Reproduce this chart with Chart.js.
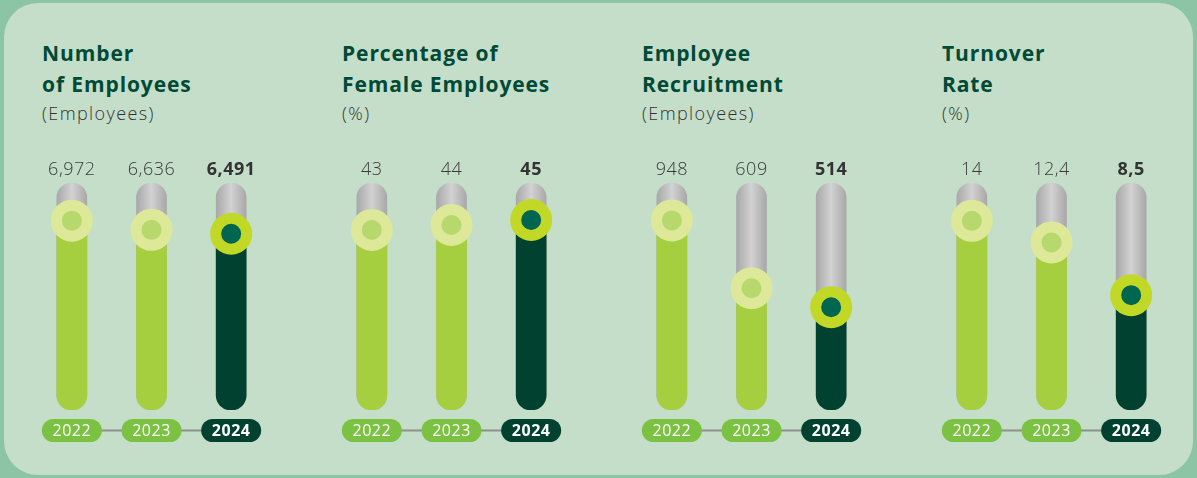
<!DOCTYPE html>
<html>
<head>
<meta charset="utf-8">
<title>Employee indicators</title>
<script src="https://cdn.jsdelivr.net/npm/chart.js@4/dist/chart.umd.min.js"></script>
<style>
  html, body { margin: 0; padding: 0; }
  body {
    width: 1197px; height: 478px; overflow: hidden; position: relative;
    background: #8cc5a6; font-family: "Open Sans", sans-serif;
  }
  .card {
    position: absolute; left: 4px; top: 3px; width: 1189px; height: 472px;
    border-radius: 34px; background: #c5dec9;
  }
  .panel { position: absolute; top: 0; width: 300px; height: 478px; }
  .panel canvas { position: absolute; left: 0; top: 0; }
  .title {
    position: absolute; left: 42px; top: 38px; font-weight: 700; font-size: 21px;
    letter-spacing: 0.9px; line-height: 31px; color: #004a36; white-space: nowrap;
  }
  .unit {
    position: absolute; left: 42px; top: 101px; font-size: 18px; font-weight: 300;
    letter-spacing: 1.4px; color: #333333; white-space: nowrap;
  }
</style>
</head>
<body>
<div class="card"></div>

<script>
// Data
const years = ["2022", "2023", "2024"]
const employees = [6972, 6636, 6491]
const femaleShare = [43, 44, 45]
const recruitment = [948, 609, 514]
const turnover = [14, 12.4, 8.5]

const titles = [
  ["Number", "of Employees"],
  ["Percentage of", "Female Employees"],
  ["Employee", "Recruitment"],
  ["Turnover", "Rate"],
]
const units = ["(Employees)", "(%)", "(Employees)", "(%)"]

// Colors
const LIME = "#a6cf3f"
const DARK = "#00412f"
const RING_LIGHT = "#dde998"
const DOT_LIGHT = "#b6d86c"
const RING_DARK = "#c2d827"
const DOT_DARK = "#006650"
const PILL_LIGHT = "#7cc242"

const fmtThousands = (v) => v.toLocaleString("en-US")
const fmtComma = (v) => String(v).replace(".", ",")

const panels = [
  { data: employees, min: 0, max: 8360, fmt: fmtThousands },
  { data: femaleShare, min: 7, max: 52.4, fmt: fmtComma },
  { data: recruitment, min: 0, max: 1135, fmt: fmtThousands },
  { data: turnover, min: 0, max: 16.8, fmt: fmtComma },
]

// Value labels above the tracks and year pills under them
const decorPlugin = {
  id: "decor",
  afterDatasetsDraw(chart, args, opts) {
    const { ctx, scales } = chart
    const x = scales.x
    const last = years.length - 1
    ctx.save()

    // value labels
    ctx.textAlign = "center"
    ctx.textBaseline = "middle"
    ctx.letterSpacing = "0.5px"
    opts.values.forEach((v, i) => {
      ctx.font = (i === last ? "700 " : "300 ") + "18px 'Open Sans'"
      ctx.fillStyle = i === last ? "#333333" : "#3a3a3a"
      ctx.fillText(opts.fmt(v), x.getPixelForValue(i), 170)
    })

    // connector between pills
    const pillW = 60, pillH = 23, pillY = 419
    ctx.strokeStyle = "#8c918c"
    ctx.lineWidth = 2
    ctx.beginPath()
    ctx.moveTo(x.getPixelForValue(0), pillY + pillH / 2)
    ctx.lineTo(x.getPixelForValue(last), pillY + pillH / 2)
    ctx.stroke()

    years.forEach((y, i) => {
      const cx = x.getPixelForValue(i)
      ctx.fillStyle = i === last ? DARK : PILL_LIGHT
      ctx.beginPath()
      ctx.roundRect(cx - pillW / 2, pillY, pillW, pillH, pillH / 2)
      ctx.fill()
      ctx.fillStyle = "#ffffff"
      ctx.font = (i === last ? "700 " : "400 ") + "16px 'Open Sans'"
      ctx.fillText(y, cx, pillY + pillH / 2 + 1)
    })
    ctx.restore()
  },
}

function trackGradient(context) {
  const chart = context.chart
  if (!chart.chartArea) return "#c4c4c4"
  const cx = chart.scales.x.getPixelForValue(context.dataIndex)
  const g = chart.ctx.createLinearGradient(cx - 15, 0, cx + 15, 0)
  g.addColorStop(0, "#a8a8a8")
  g.addColorStop(0.5, "#d2d2d2")
  g.addColorStop(1, "#a8a8a8")
  return g
}

panels.forEach((p, idx) => {
  const panel = document.createElement("div")
  panel.className = "panel"
  panel.style.left = idx * 300 + "px"
  panel.innerHTML =
    `<div class="title">${titles[idx].join("<br>")}</div>` +
    `<div class="unit">${units[idx]}</div>` +
    `<canvas width="300" height="478"></canvas>`
  document.body.appendChild(panel)

  const last = p.data.length - 1
  const pick = (light, dark) => p.data.map((_, i) => (i === last ? dark : light))

  new Chart(panel.querySelector("canvas"), {
    type: "bar",
    data: {
      labels: years,
      datasets: [
        {
          type: "line",
          data: p.data,
          showLine: false,
          pointRadius: 15.5,
          pointHoverRadius: 15.5,
          pointBorderWidth: 11,
          pointBackgroundColor: pick(DOT_LIGHT, DOT_DARK),
          pointBorderColor: pick(RING_LIGHT, RING_DARK),
          clip: false,
          order: 0,
        },
        {
          data: p.data,
          base: p.min,
          backgroundColor: pick(LIME, DARK),
          barThickness: 30,
          borderRadius: 15,
          borderSkipped: false,
          grouped: false,
          order: 1,
        },
        {
          data: p.data.map(() => p.max),
          base: p.min,
          backgroundColor: trackGradient,
          barThickness: 30,
          borderRadius: 15,
          borderSkipped: false,
          grouped: false,
          order: 2,
        },
      ],
    },
    options: {
      responsive: false,
      animation: false,
      events: [],
      layout: { padding: { left: 32, right: 29, top: 183, bottom: 68 } },
      scales: {
        x: { display: false },
        y: { display: false, min: p.min, max: p.max },
      },
      plugins: {
        legend: { display: false },
        tooltip: { enabled: false },
        decor: { values: p.data, fmt: p.fmt },
      },
    },
    plugins: [decorPlugin],
  })
})
</script>
</body>
</html>
